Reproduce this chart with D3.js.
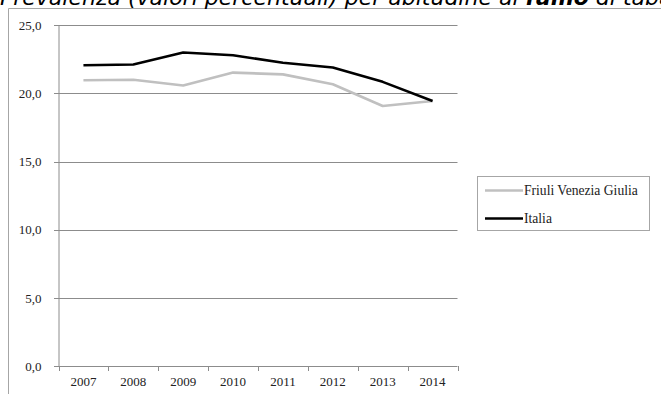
<!DOCTYPE html>
<html><head><meta charset="utf-8">
<script src="https://cdn.jsdelivr.net/npm/d3@7"></script>
<style>body{margin:0;background:#fff;overflow:hidden}svg{display:block}</style>
</head><body>
<script>
const years = ["2007","2008","2009","2010","2011","2012","2013","2014"];
const fvg = [20.97, 21.0, 20.58, 21.53, 21.4, 20.67, 19.08, 19.45];
const italia = [22.07, 22.12, 23.0, 22.8, 22.25, 21.9, 20.85, 19.45];
const yTicks = [0, 5, 10, 15, 20, 25];
const seriesNames = ["Friuli Venezia Giulia", "Italia"];
const seriesColors = ["#c0c0c0", "#000000"];

const W = 661, H = 394;
const svg = d3.select("body").append("svg").attr("width", W).attr("height", H);

// outer frame
svg.append("path").attr("d", `M8.5,${H} V8.5 H${W}`).attr("fill","none").attr("stroke","#a6a6a6").attr("stroke-width",1);

// title (clipped at top, as in the reference)
const t = svg.append("text").attr("x", 0).attr("y", 5)
  .attr("font-family", "DejaVu Sans").attr("font-style","italic").attr("font-size", 22).attr("fill","#000");
t.append("tspan").text("Prevalenza (valori percentuali) per abitudine al ");
t.append("tspan").attr("font-weight","bold").text("fumo");
t.append("tspan").text(" di tabacco");

const x = d3.scaleBand().domain(years).range([58.5, 457.5]);
const y = d3.scaleLinear().domain([0, 25]).range([366, 25.3]);

// gridlines
svg.append("g").selectAll("line").data(yTicks).join("line")
  .attr("x1", 54).attr("x2", 457.5)
  .attr("y1", d => Math.round(y(d)) + 0.5).attr("y2", d => Math.round(y(d)) + 0.5)
  .attr("stroke", "#8c8c8c").attr("stroke-width", 1);

// y axis
const yAxis = d3.axisLeft(y).tickValues(yTicks).tickSize(0).tickPadding(0)
  .tickFormat(d => d3.format(".1f")(d).replace(".", ","));
const gy = svg.append("g").attr("transform", "translate(58.5,0)").call(yAxis);
gy.select(".domain").attr("stroke", "#8c8c8c");
gy.selectAll("text").attr("x", -17).attr("font-family", "Liberation Serif").attr("font-size", 13).attr("fill", "#222");

// x axis
const xAxis = d3.axisBottom(x).tickSize(0).tickPadding(0);
const gx = svg.append("g").attr("transform", "translate(0,366.5)").call(xAxis);
gx.select(".domain").remove();
gx.selectAll("text").attr("y", 10).attr("font-family", "Liberation Serif").attr("font-size", 13).attr("fill", "#222");
// x tick marks at category boundaries
const bounds = years.map(d => x(d)).concat([x.range()[1]]);
svg.append("g").selectAll("line").data(bounds).join("line")
  .attr("x1", d => Math.round(d) + 0.5).attr("x2", d => Math.round(d) + 0.5)
  .attr("y1", 366).attr("y2", 371).attr("stroke", "#8c8c8c");

// lines
const line = d3.line().x((d, i) => x(years[i]) + x.bandwidth() / 2).y(d => y(d));
[fvg, italia].forEach((s, i) => {
  svg.append("path").datum(s).attr("d", line).attr("fill", "none")
    .attr("stroke", seriesColors[i]).attr("stroke-width", 2.6).attr("stroke-linejoin", "round");
});

// legend
const lg = svg.append("g");
lg.append("rect").attr("x", 477.5).attr("y", 176.5).attr("width", 172).attr("height", 54)
  .attr("fill", "#fff").attr("stroke", "#a6a6a6");
seriesNames.forEach((n, i) => {
  const yy = 190.5 + i * 28;
  lg.append("line").attr("x1", 485).attr("x2", 523).attr("y1", yy).attr("y2", yy)
    .attr("stroke", seriesColors[i]).attr("stroke-width", 2.6);
  lg.append("text").attr("x", 524).attr("y", yy + 4.5).text(n)
    .attr("font-family", "Liberation Serif").attr("font-size", 13.6).attr("fill", "#222");
});
</script>
</body></html>
